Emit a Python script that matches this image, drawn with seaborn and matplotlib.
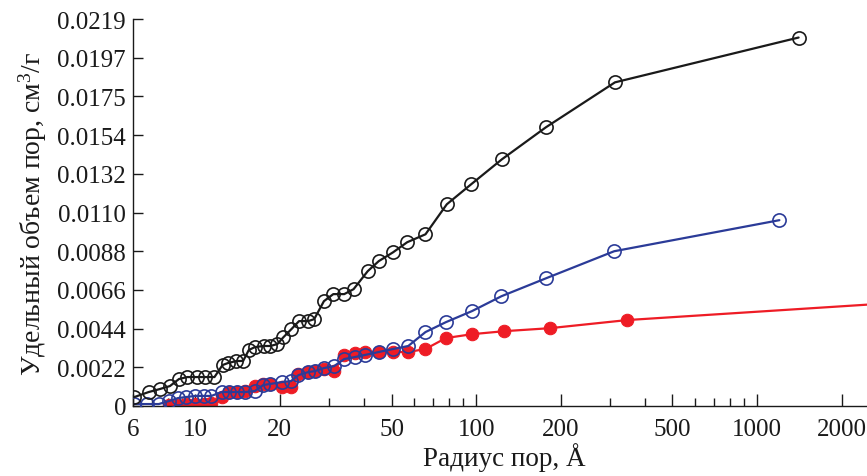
import matplotlib
matplotlib.use("Agg")
import matplotlib.pyplot as plt
import matplotlib.ticker as mticker
import numpy as np
import pandas as pd
import seaborn as sns

# ---- data ----
x_black = [6.05, 6.82, 7.47, 8.12, 8.75, 9.36, 10.1, 10.8, 11.7, 12.5, 13.05, 14.0, 14.8,
           15.5, 16.3, 17.5, 18.5, 19.6, 20.6, 22.0, 23.4, 25.2, 26.5, 28.7, 31.0, 33.9,
           36.6, 41.1, 45.0, 50.6, 56.8, 66.0, 78.6, 95.9, 123.5, 177, 312, 1406]
y_black = [0.0005, 0.00079, 0.00096, 0.00113, 0.00153, 0.00164, 0.00164, 0.00164, 0.00164,
           0.00232, 0.00243, 0.00255, 0.00255, 0.00317, 0.00334, 0.0034, 0.0034, 0.00351,
           0.0039, 0.00436, 0.00481, 0.00481, 0.00492, 0.00594, 0.00634, 0.00634, 0.00662,
           0.00764, 0.00821, 0.00871, 0.00928, 0.00973, 0.01143, 0.01256, 0.01398, 0.01579,
           0.01834, 0.02088]

x_blue = [6.07, 6.71, 7.41, 8.06, 8.68, 9.28, 10.0, 10.7, 11.4, 12.4, 13.15, 14.06, 15.03,
          16.3, 17.46, 18.5, 20.4, 21.9, 23.3, 25.2, 26.7, 28.7, 31.2, 33.9, 36.9, 40.1,
          45.0, 50.6, 57.3, 66.0, 78.0, 96.7, 123, 177.5, 310, 1201]
y_blue = [0.00011, 0.00011, 0.00011, 0.00028, 0.00045, 0.00051, 0.00057, 0.00057, 0.00057,
          0.00079, 0.00079, 0.00079, 0.00079, 0.00085, 0.00119, 0.00125, 0.00136, 0.00141,
          0.00175, 0.00192, 0.00198, 0.00215, 0.00226, 0.00266, 0.00277, 0.00289, 0.00306,
          0.00323, 0.0034, 0.00419, 0.00475, 0.00538, 0.00622, 0.00724, 0.00877, 0.01053]

x_red = [8.06, 8.68, 9.28, 10.0, 10.7, 11.4, 12.4, 13.15, 14.06, 15.03, 16.3, 17.46, 18.5,
         20.4, 21.9, 23.3, 25.2, 26.7, 28.7, 31.2, 33.9, 36.9, 40.1, 45.0, 50.6, 57.3,
         66.0, 78.0, 96.7, 126, 183, 345, 3000]
y_red = [0.00006, 0.00006, 0.00011, 0.00011, 0.00011, 0.00017, 0.00051, 0.00079, 0.00079,
         0.00085, 0.00113, 0.00125, 0.00125, 0.00107, 0.00107, 0.00181, 0.00192, 0.00198,
         0.00209, 0.00198, 0.00289, 0.003, 0.00306, 0.00306, 0.00306, 0.00306, 0.00323,
         0.00385, 0.00407, 0.00424, 0.00441, 0.00487, 0.00583]

x_ticks = [6, 10, 20, 50, 100, 200, 500, 1000, 2000]
x_ticklabels = ["6", "10", "20", "50", "100", "200", "500", "1000", "2000"]
y_ticklabels = ["0", "0.0022", "0.0044", "0.0066", "0.0088", "0.0110", "0.0132",
                "0.0154", "0.0175", "0.0197", "0.0219"]
y_max = 0.02193

# ---- style ----
sns.set_theme(style="ticks")
plt.rcParams["font.family"] = ["Liberation Serif", "DejaVu Serif"]
plt.rcParams["mathtext.fontset"] = "custom"
plt.rcParams["mathtext.rm"] = "Liberation Serif"
plt.rcParams["mathtext.it"] = "Liberation Serif:italic"
plt.rcParams["mathtext.bf"] = "Liberation Serif:bold"

fig = plt.figure(figsize=(8.67, 4.77), dpi=100)
ax = fig.add_axes([133 / 867, 70 / 477, 1 - 133 / 867 + 0.01, (407 - 20) / 477])

black = "#1a1a1a"
blue = "#2b3b98"
red = "#ee1c25"

df_red = pd.DataFrame({"x": x_red, "y": y_red})
df_blue = pd.DataFrame({"x": x_blue, "y": y_blue})
df_black = pd.DataFrame({"x": x_black, "y": y_black})

sns.lineplot(data=df_red, x="x", y="y", ax=ax, color=red, lw=1.6, marker="o",
             markersize=9, markerfacecolor=red, markeredgecolor=red, estimator=None,
             sort=False, zorder=2)
sns.lineplot(data=df_blue, x="x", y="y", ax=ax, color=blue, lw=1.6, marker="o",
             markersize=9.5, markerfacecolor="none", markeredgecolor=blue,
             markeredgewidth=1.2, estimator=None, sort=False, zorder=3)
sns.lineplot(data=df_black, x="x", y="y", ax=ax, color=black, lw=1.6, marker="o",
             markersize=9.5, markerfacecolor="none", markeredgecolor=black,
             markeredgewidth=1.2, estimator=None, sort=False, zorder=4)

ax.set_xscale("log")
ax.set_xlim(6, 2645)
ax.set_ylim(0, y_max)

ax.xaxis.set_major_locator(mticker.FixedLocator(x_ticks))
ax.xaxis.set_major_formatter(mticker.FixedFormatter(x_ticklabels))
ax.xaxis.set_minor_locator(mticker.LogLocator(base=10, subs=np.arange(2, 10)))
ax.xaxis.set_minor_formatter(mticker.NullFormatter())

y_ticks = [y_max * k / 10 for k in range(11)]
ax.set_yticks(y_ticks)
ax.set_yticklabels(y_ticklabels)

ax.tick_params(axis="both", which="both", direction="in", labelsize=18, colors="#1a1a1a",
               width=1.0)
ax.tick_params(axis="x", which="major", length=9, pad=9)
ax.tick_params(axis="x", which="minor", length=6)
ax.tick_params(axis="y", which="major", length=7, pad=5)

sns.despine(ax=ax, top=True, right=True)
ax.spines["left"].set_linewidth(1.0)
ax.spines["bottom"].set_linewidth(1.0)
ax.spines["left"].set_color("#1a1a1a")
ax.spines["bottom"].set_color("#1a1a1a")

ax.set_xlabel("Радиус пор, Å", fontsize=19.5, labelpad=1, color="#1a1a1a")
ax.set_ylabel("Удельный объем пор, см$^3$/г", fontsize=20, labelpad=6, color="#1a1a1a")

fig.savefig("out.png", dpi=100)
